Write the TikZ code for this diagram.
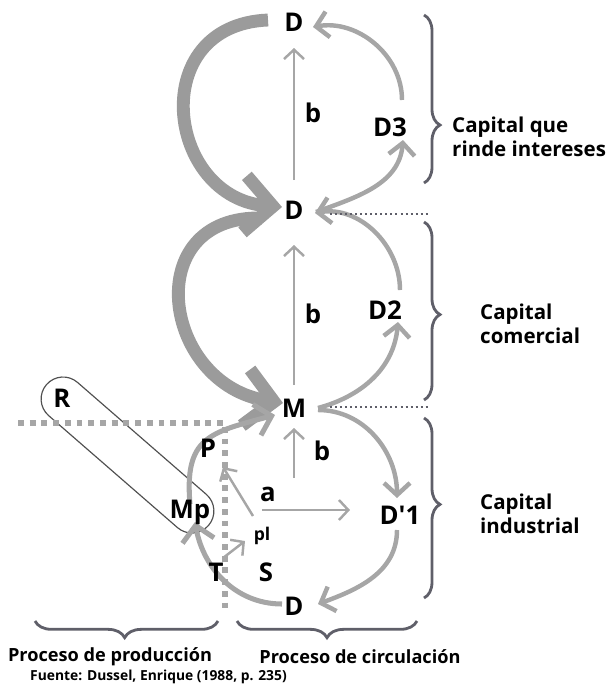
\documentclass[tikz,border=0pt]{standalone}
\usepackage{fontspec}
\setmainfont{Open Sans}
\usetikzlibrary{arrows.meta,calc,decorations.pathreplacing,backgrounds}
\definecolor{arcgray}{RGB}{166,166,166}
\definecolor{heavygray}{RGB}{155,155,155}
\definecolor{bracegray}{RGB}{95,95,105}
\definecolor{linegray}{RGB}{80,80,80}
\tikzset{
  lbl/.style={font=\fontsize{22}{24}\selectfont\bfseries, inner sep=2pt},
  side/.style={font=\fontsize{17.5}{21}\selectfont\bfseries, align=left, anchor=west, inner sep=0pt},
  circ/.style={draw=arcgray, line width=3.8pt, -{Straight Barb[length=3.6mm,width=7.8mm]}},
  heavycirc/.style={draw=heavygray, line width=11pt, -{Straight Barb[length=8.5mm,width=17mm]}},
  loopcirc/.style={draw=arcgray, line width=4.3pt, -{Straight Barb[length=4.6mm,width=9.6mm]}},
  flow/.style={draw=arcgray, line width=2.1pt, -{Straight Barb[length=2.8mm,width=6mm]}},
  brc/.style={draw=bracegray, line width=2.4pt, decorate},
  cutline/.style={draw=arcgray, line width=5pt, dash pattern=on 5pt off 5pt},
  sep/.style={draw=bracegray, line width=1.7pt, dash pattern=on 1.7pt off 2.6pt}
}
\begin{document}
\begin{tikzpicture}[x=0.03cm,y=-0.03cm]
\useasboundingbox (0,0) rectangle (614,686);

\node[lbl] (dtop) at (294,22) {D};
\node[lbl] (dmid) at (294,210) {D};
\node[lbl] (m) at (294,408) {M};
\node[lbl] (dbot) at (294,606) {D};
\node[lbl] (d3) at (390,127) {D3};
\node[lbl] (d2) at (385,310) {D2};
\node[lbl] (d1) at (400,515) {D\textquotesingle 1};
\node[lbl] (b1) at (313,113) {b};
\node[lbl] (b2) at (313,314) {b};
\node[lbl] (b3) at (322,451) {b};
\node[lbl] (a) at (268,494) {a};
\node[lbl] (p) at (208,448) {P};
\node[lbl] (mp) at (190,512) {Mp};
\node[lbl] (t) at (216,572) {T};
\node[lbl] (s) at (266,572) {S};
\node[lbl, font=\fontsize{15}{16}\selectfont\bfseries] (pl) at (262,536) {pl};
\node[lbl] (r) at (62,398) {R};

\begin{pgfonlayer}{background}
\node[draw=linegray, line width=1pt, rounded corners=0.66cm, minimum width=6.44cm, minimum height=1.32cm, inner sep=0pt, rotate=-41] (rcap) at (127.5,455) {};
\draw[cutline] (18,423) -- (225,423) -- (225,612);

\draw[heavycirc] ($(dtop)+(-26,-2)$) .. controls (145,25) and (166,198) .. ($(dmid)+(-12,-3)$);
\draw[heavycirc] ($(dmid)+(-32,8)$) .. controls (138,215) and (162,385) .. ($(m)+(-11,-5)$);

\draw[circ] ($(dmid)+(22,2)$) to[out=20,in=-95] ($(d3)+(13,13)$);
\draw[circ] ($(d3)+(12,-27)$) to[out=90,in=10] ($(dtop)+(19,5)$);
\draw[circ] ($(m)+(24,0)$) to[out=15,in=-95] ($(d2)+(13,12)$);
\draw[circ] ($(d2)+(15,-20)$) to[out=90,in=10] ($(dmid)+(21,3)$);
\draw[circ] ($(m)+(24,2)$) to[out=0,in=90] ($(d1)+(-3,-17)$);
\draw[circ] ($(d1)+(-3,15)$) to[out=-90,in=20] ($(dbot)+(24,-2)$);

\draw[loopcirc] ($(dbot)+(-12,-2)$) to[out=180,in=-80] ($(mp)+(5,10)$);
\draw[loopcirc] ($(mp)+(0,-8)$) to[out=95,in=195,looseness=1.4] ($(m)+(-19,7)$);

\draw[flow] ($(dmid)+(0,-30)$) -- ($(dtop)+(0,26)$);
\draw[flow] ($(m)+(0,-23)$) -- ($(dmid)+(0,35)$);
\draw[flow] ($(m)+(0,70)$) -- ($(m)+(0,20)$);
\draw[flow] ($(a)+(-6,16)$) -- ($(d1)+(-50,-5)$);
\draw[flow] ($(pl)+(-9,-20)$) -- ($(p)+(15,19)$);
\draw[flow] ($(t)+(7,-14)$) -- ($(pl)+(-17,5)$);
\end{pgfonlayer}

\draw[sep] ($(dmid)+(36,4)$) -- (430,214);
\draw[sep] ($(m)+(36,-1)$) -- (430,407);

\draw[brc, decoration={brace, amplitude=0.48cm, aspect=0.655}] (424,15) -- (424,183);
\draw[brc, decoration={brace, amplitude=0.48cm, aspect=0.52}] (424,222) -- (424,400);
\draw[brc, decoration={brace, amplitude=0.48cm, aspect=0.48}] (424,418) -- (424,598);
\draw[brc, decoration={brace, amplitude=0.5cm, aspect=0.51}] (218,621) -- (35,621);
\draw[brc, decoration={brace, amplitude=0.5cm, aspect=0.5}] (417,621) -- (237,621);

\node[side] (cqr) at (452,137) {Capital que\\rinde intereses};
\node[side] (ccom) at (480,324) {Capital\\comercial};
\node[side] (cind) at (480,514) {Capital\\industrial};
\node[side, anchor=center, font=\fontsize{15.5}{18}\selectfont\bfseries] (pprod) at (110,657) {Proceso de producción};
\node[side, anchor=center, font=\fontsize{15.5}{18}\selectfont\bfseries] (pcirc) at (360,657) {Proceso de circulación};
\node[side, font=\fontsize{11.8}{14}\selectfont\bfseries] (src) at (30,677) {Fuente: Dussel, Enrique (1988, p. 235)};
\end{tikzpicture}
\end{document}
